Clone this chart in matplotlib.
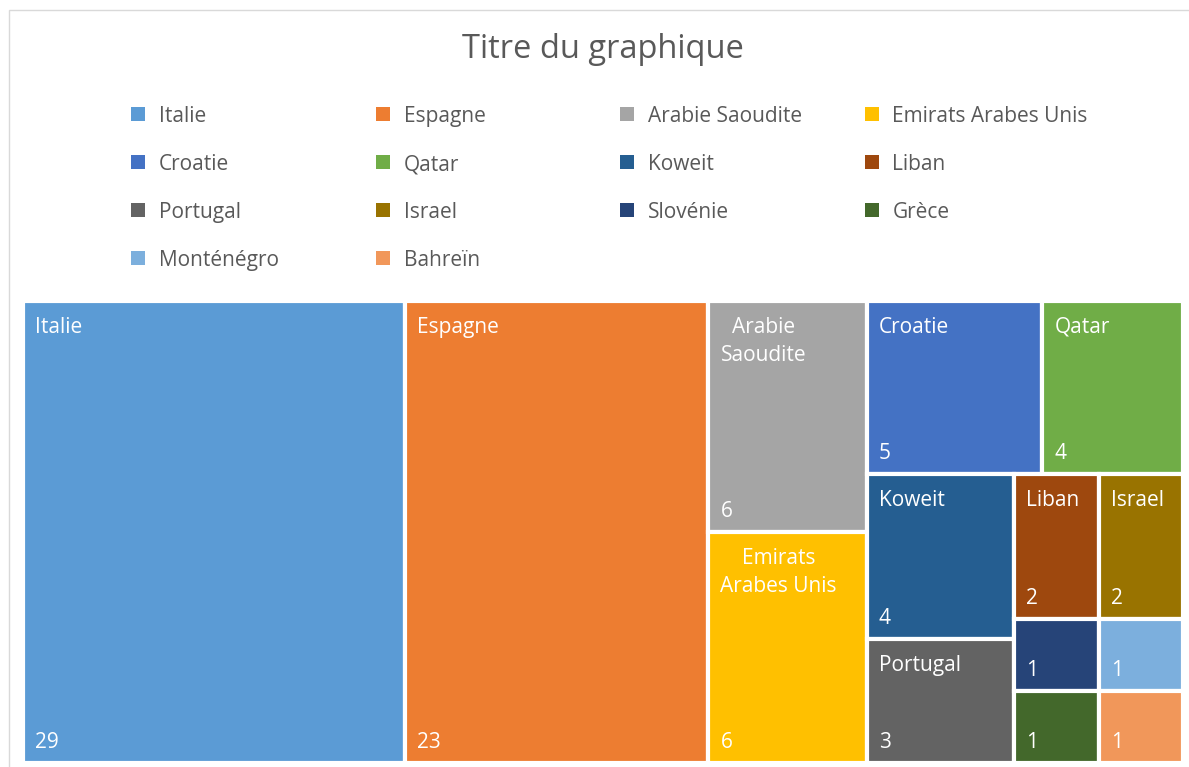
import matplotlib.pyplot as plt
from matplotlib.patches import Rectangle

plt.rcParams['font.family'] = ['Open Sans', 'DejaVu Sans']

# data (source order = legend order)
countries = ['Italie', 'Espagne', 'Arabie Saoudite', 'Emirats Arabes Unis',
             'Croatie', 'Qatar', 'Koweit', 'Liban', 'Portugal', 'Israel',
             'Slovénie', 'Grèce', 'Monténégro', 'Bahreïn']
values = [29, 23, 6, 6, 5, 4, 4, 2, 3, 2, 1, 1, 1, 1]
colors = ['#5B9BD5', '#ED7D31', '#A5A5A5', '#FFC000', '#4472C4', '#70AD47',
          '#255E91', '#9E480E', '#636363', '#997300', '#264478', '#43682B',
          '#7CAFDD', '#F1975A']
title = 'Titre du graphique'

W, H = 1189, 767
GREY = '#595959'


def px(x):
    return x / W


def py(y):
    return 1 - y / H


def worst(row, side):
    s = sum(row)
    return max(max(side ** 2 * r / s ** 2, s ** 2 / (side ** 2 * r)) for r in row)


def squarify(vals, x, y, w, h):
    # classic squarified treemap, y grows downwards
    scale = w * h / sum(vals)
    areas = [v * scale for v in vals]
    rects = []
    i = 0
    while i < len(areas):
        side = min(w, h)
        row = [areas[i]]
        j = i + 1
        while j < len(areas) and worst(row + [areas[j]], side) <= worst(row, side):
            row.append(areas[j])
            j += 1
        s = sum(row)
        if w >= h:
            sw = s / h
            yy = y
            for a in row:
                rects.append((x, yy, sw, a / sw))
                yy += a / sw
            x += sw
            w -= sw
        else:
            sh = s / w
            xx = x
            for a in row:
                rects.append((xx, y, a / sh, sh))
                xx += a / sh
            y += sh
            h -= sh
        i = j
    return rects


fig = plt.figure(figsize=(W / 100, H / 100), dpi=100)

# chart area border (cropped on right/bottom)
fig.add_artist(Rectangle((px(8.5), -0.1), 2, py(10) + 0.1, transform=fig.transFigure,
                         fill=False, ec='#D9D9D9', lw=1))

fig.text(px(603), py(49), title, ha='center', va='center', fontsize=23.5, color=GREY)

# legend, 4 columns
for i, (name, c) in enumerate(zip(countries, colors)):
    col, row = i % 4, i // 4
    lx = 131 + col * 244.5
    ly = 114 + row * 48
    fig.add_artist(Rectangle((px(lx), py(ly + 7)), 14 / W, 14 / H,
                             transform=fig.transFigure, color=c, lw=0))
    fig.text(px(lx + 28), py(ly + 2.5), name, ha='left', va='center',
             fontsize=15, color=GREY)

# treemap
L, T, R, B = 23, 301, 1183, 763
ax = fig.add_axes([px(L), py(B), (R - L) / W, (B - T) / H])
ax.set_xlim(0, R - L)
ax.set_ylim(B - T, 0)
ax.axis('off')

order = sorted(range(len(values)), key=lambda k: -values[k])
rects = squarify([values[k] for k in order], 0, 0, R - L, B - T)

renderer = fig.canvas.get_renderer()


def text_width(s):
    t = ax.text(0, 0, s, fontsize=15)
    tw = t.get_window_extent(renderer).width
    t.remove()
    return tw


for k, (x, y, w, h) in zip(order, rects):
    ax.add_patch(Rectangle((x, y), w, h, fc=colors[k], ec='white', lw=3))
    # wrap name to tile width; hide it when the tile is too small
    words = countries[k].split()
    room = w - 24
    if h > 90 and max(text_width(wd) for wd in words) <= room:
        lines, cur = [], ''
        for wd in words:
            test = (cur + ' ' + wd).strip()
            if text_width(test) > room and cur:
                lines.append(cur)
                cur = wd
            else:
                cur = test
        lines.append(cur)
        ax.text(x + 12, y + 16, '\n'.join(lines), ha='left', va='top', fontsize=15,
                color='white', multialignment='center', linespacing=1.45)
    ax.text(x + 12, y + h - 15, str(values[k]), ha='left', va='baseline',
            fontsize=15, color='white')

fig.savefig('out.png', dpi=100)
